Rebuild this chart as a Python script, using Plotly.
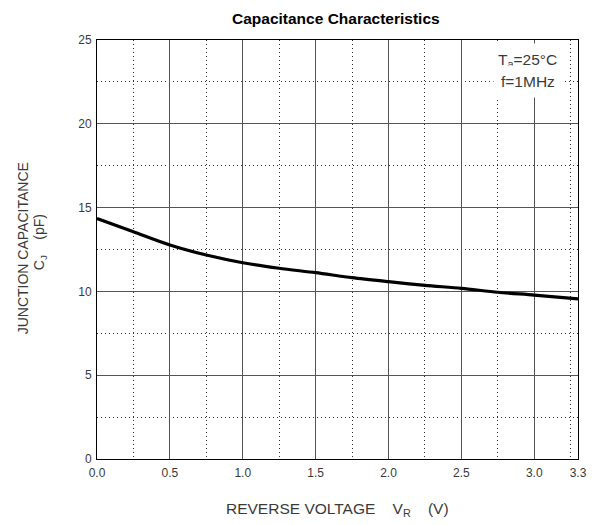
import plotly.graph_objects as go

voltage = [0.0, 0.25, 0.5, 0.75, 1.0, 1.25, 1.5, 1.75, 2.0, 2.25, 2.5, 2.75, 3.0, 3.3]
capacitance = [14.35, 13.56, 12.77, 12.17, 11.71, 11.38, 11.12, 10.82, 10.58, 10.36, 10.18, 9.95, 9.78, 9.55]

x_ticks = [0.0, 0.5, 1.0, 1.5, 2.0, 2.5, 3.0, 3.3]
x_ticklabels = ["0.0", "0.5", "1.0", "1.5", "2.0", "2.5", "3.0", "3.3"]
x_minor = [0.25, 0.75, 1.25, 1.75, 2.25, 2.75, 3.25]
y_ticks = [0, 5, 10, 15, 20, 25]
y_minor = [2.5, 7.5, 12.5, 17.5, 22.5]

FONT = "Liberation Sans, Arial, sans-serif"
TXT = "#3a3a3a"
NB = "\u00a0"

# page offset (body margin 8px): plot area on page 97..580 x 40..459
OFF = 8
W, H = 599 - OFF, 525 - OFF
PL, PT, PW, PH = 97, 40, 483, 419


def px(x):
    return (x - PL) / PW


def py(y):
    return (PT + PH - y) / PH


fig = go.Figure()
# invisible helper trace so the base (minor-grid) subplot is drawn
fig.add_trace(go.Scatter(
    x=voltage, y=capacitance, mode="lines", xaxis="x", yaxis="y",
    line=dict(color="rgba(0,0,0,0)", width=0),
    showlegend=False, hoverinfo="skip",
))
fig.add_trace(go.Scatter(
    x=voltage, y=capacitance, mode="lines", xaxis="x2", yaxis="y2",
    line=dict(color="black", width=3.2, shape="spline", smoothing=0.8),
    showlegend=False, hoverinfo="skip",
))

minor_common = dict(
    showline=False, showgrid=True, gridcolor="#333333", gridwidth=1,
    griddash="1px,3px", zeroline=False, ticks="", showticklabels=False,
)
major_common = dict(
    showline=True, linecolor="black", linewidth=1, mirror=True,
    showgrid=True, gridcolor="#555555", gridwidth=1,
    zeroline=False, ticks="", tickfont=dict(family=FONT, size=12, color=TXT),
)

fig.update_layout(
    width=W, height=H,
    margin=dict(l=PL - OFF, r=W - (PL + PW - OFF), t=PT - OFF, b=H - (PT + PH - OFF)),
    paper_bgcolor="white", plot_bgcolor="white",
    xaxis=dict(range=[0, 3.3], tickmode="array", tickvals=x_minor, **minor_common),
    yaxis=dict(range=[0, 25], tickmode="array", tickvals=y_minor, **minor_common),
    xaxis2=dict(range=[0, 3.3], overlaying="x", anchor="y2", side="bottom",
                tickmode="array", tickvals=x_ticks, ticktext=x_ticklabels,
                ticklabelstandoff=3, **major_common),
    yaxis2=dict(range=[0, 25], overlaying="y", anchor="x2", side="left",
                tickmode="array", tickvals=y_ticks, ticklabelstandoff=2,
                **major_common),
)

C = dict(xref="paper", yref="paper", xanchor="center", yanchor="middle", showarrow=False)
annotations = [
    dict(text="<b>Capacitance Characteristics</b>", x=px(337), y=py(18),
         font=dict(family=FONT, size=15.5, color="black"), **C),
    dict(text="REVERSE VOLTAGE" + NB * 4 + "V<sub>R</sub>" + NB * 4 + "(V)",
         x=px(339), y=py(509), font=dict(family=FONT, size=15.5, color=TXT), **C),
    dict(text="JUNCTION CAPACITANCE", x=px(23), y=py(248), textangle=-90,
         font=dict(family=FONT, size=14, color=TXT), **C),
    dict(text="C<sub>J</sub>" + NB * 4 + "(pF)", x=px(40), y=py(242), textangle=-90,
         font=dict(family=FONT, size=14, color=TXT), **C),
    dict(text="T<sub>a</sub>=25°C", x=px(529), y=py(60),
         bgcolor="white", borderpad=7,
         font=dict(family=FONT, size=15.5, color=TXT), **C),
    dict(text="f=1MHz", x=px(530), y=py(82),
         bgcolor="white", borderpad=7,
         font=dict(family=FONT, size=15.5, color=TXT), **C),
]
fig.update_layout(annotations=annotations)

fig.write_html("out.html")
